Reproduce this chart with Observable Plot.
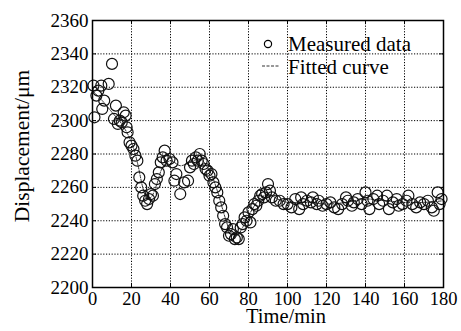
<!DOCTYPE html>
<html>
<head>
<meta charset="utf-8">
<script src="https://cdn.jsdelivr.net/npm/d3@7"></script>
<script src="https://cdn.jsdelivr.net/npm/@observablehq/plot@0.6"></script>
<style>
  html, body { margin: 0; padding: 0; background: white; }
  #chart { position: relative; width: 461px; height: 331px; }
  #chart svg, #chart svg text { font-family: "Liberation Serif", "Times New Roman", serif; }
</style>
</head>
<body>
<div id="chart"></div>
<script>
// Measured data: time (min) and displacement (µm)
const measuredT = [0.5,1,2,3,4.5,5,6,8.3,10,11,12,13,14,15,16,17,17.5,18,19,20,21,22,23,24,25,26,27,28,29,30,31,
  32,33,34,35,36,37,38,39.5,41,42,43,45,47,49,50,51,52,53,54,55,56,57,58,59,60,61,62,63,64,65,66,67,68,69,70,71,72,73,74,75,
  76,77,78,79,80,81,82,83,84,85,86,87,88,89,90,91,92,94,96,98,100,102,104,106,107,108,110,112,113,115,116,118,120,122,124,126,
  128,130,131,133,134,136,138,140,141,142,144,146,147,149,151,152,154,156,157,159,161,162,164,166,168,170,172,174,175,177,178,179];
const measuredY = [2321,2302,2315,2318,2321,2307,2312,2322,2334,2301,2309,2298,2300,2299,2305,2303,2296,2293,2287,2285,2283,2279,2276,2266,2260,2255,2252,2250,2253,2256,2255,
  2262,2265,2269,2275,2278,2282,2276,2277,2275,2264,2268,2256,2263,2264,2272,2276,2274,2278,2276,2280,2276,2274,2271,2270,2267,2268,2263,2260,2257,2252,2248,2243,2238,2236,2231,2232,2235,2229,2230,2229,
  2236,2238,2242,2240,2245,2239,2247,2250,2249,2252,2255,2256,2254,2257,2262,2258,2254,2252,2252,2250,2250,2248,2253,2247,2254,2250,2252,2251,2254,2250,2252,2249,2250,2251,2248,2247,
  2250,2254,2252,2249,2251,2253,2250,2257,2252,2247,2253,2255,2250,2252,2255,2247,2251,2253,2249,2250,2252,2255,2250,2248,2251,2250,2252,2248,2246,2257,2250,2253];

// Fitted curve
const fitT = [0,5,10,15,20,23,26,28,30,33,36,40,45,50,55,60,64,68,71,74,77,81,85,90,95,100,110,120,130,140,150,160,170,180];
const fitY = [2318,2312,2305,2298,2287,2275,2259,2253,2254,2262,2272,2276,2273,2275,2277,2270,2258,2242,2233,2231,2236,2245,2252,2256,2253,2251,2251,2250,2251,2253,2252,2251,2251,2252];

const xTicks = [0,20,40,60,80,100,120,140,160,180];
const yTicks = [2200,2220,2240,2260,2280,2300,2320,2340,2360];

const xLabel = "Time/min";
const yLabel = "Displacement/\u03bcm";
const legendLabels = ["Measured data", "Fitted curve"];

const measured = measuredT.map((t, i) => ({t, y: measuredY[i]}));
const fitted = fitT.map((t, i) => ({t, y: fitY[i]}));

const font = "'Liberation Serif', 'Times New Roman', serif";

const chart = Plot.plot({
  width: 461,
  height: 331,
  marginLeft: 92,
  marginRight: 18,
  marginTop: 20,
  marginBottom: 44,
  style: {fontFamily: font, fontSize: "19px", background: "white", color: "black"},
  x: {domain: [0, 180]},
  y: {domain: [2200, 2360]},
  marks: [
    Plot.gridX(xTicks, {stroke: "black", strokeOpacity: 1, strokeDasharray: "1.2,1.6", strokeWidth: 1}),
    Plot.gridY(yTicks, {stroke: "black", strokeOpacity: 1, strokeDasharray: "1.2,1.6", strokeWidth: 1}),
    Plot.ruleX(xTicks, {y1: 2200, y2: 2202.5, stroke: "black"}),
    Plot.ruleX(xTicks, {y1: 2357.5, y2: 2360, stroke: "black"}),
    Plot.ruleY(yTicks, {x1: 0, x2: 2, stroke: "black"}),
    Plot.ruleY(yTicks, {x1: 178, x2: 180, stroke: "black"}),
    Plot.line(fitted, {x: "t", y: "y", stroke: "#333", strokeWidth: 1, strokeDasharray: "3,1.5", curve: "catmull-rom"}),
    Plot.dot(measured, {x: "t", y: "y", r: 5.5, stroke: "#111", strokeWidth: 1.2, fill: "none"}),
    Plot.frame({stroke: "black", strokeWidth: 1.5}),
    Plot.axisX(xTicks, {tickSize: 0, tickPadding: 4, label: null, fontSize: 18.5, fontFamily: font, tickFormat: d3.format("d")}),
    Plot.axisY(yTicks, {tickSize: 0, tickPadding: 4, label: null, fontSize: 19, fontFamily: font, tickFormat: d3.format("d")}),
    Plot.text([xLabel], {frameAnchor: "bottom", dy: 35.5, dx: 18, fontSize: 20.5, fontFamily: font}),
    Plot.text([yLabel], {frameAnchor: "left", dx: -70, dy: -8, rotate: -90, textAnchor: "middle", fontSize: 21.5, fontFamily: font})
  ]
});

document.getElementById("chart").appendChild(chart);

// Legend inside plot area (no background)
const svg = d3.select(chart);
const lg = svg.append("g").attr("font-family", font).attr("font-size", 21).attr("text-anchor", "start");
lg.append("circle").attr("cx", 268).attr("cy", 44).attr("r", 3.6)
  .attr("fill", "none").attr("stroke", "black").attr("stroke-width", 1.2);
lg.append("text").attr("x", 288).attr("y", 44).attr("dy", "0.35em").text(legendLabels[0]);
lg.append("line").attr("x1", 262).attr("x2", 280).attr("y1", 66).attr("y2", 66)
  .attr("stroke", "#333").attr("stroke-width", 1).attr("stroke-dasharray", "3,1.5");
lg.append("text").attr("x", 288).attr("y", 67).attr("dy", "0.35em").text(legendLabels[1]);
</script>
</body>
</html>
